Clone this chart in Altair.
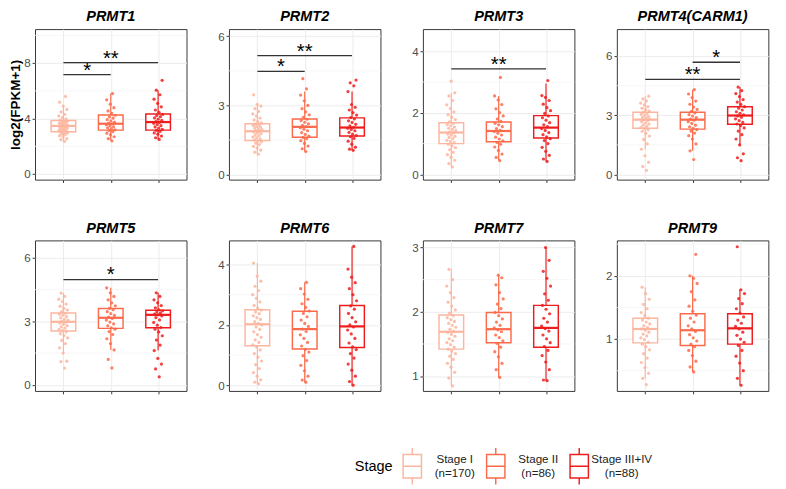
import altair as alt
import pandas as pd

FONT = "Liberation Sans"

STAGES = ["Stage I", "Stage II", "Stage III+IV"]
STAGE_N = [170, 86, 88]
COLORS = ["#FCB59E", "#FB6A4A", "#EE1C1C"]
LEGEND_TITLE = "Stage"

GENES = ["PRMT1", "PRMT2", "PRMT3", "PRMT4(CARM1)",
         "PRMT5", "PRMT6", "PRMT7", "PRMT9"]

# axis ranges and breaks per gene
Y_DOMAIN = {
    "PRMT1": [-0.4, 10.45], "PRMT2": [-0.22, 6.31], "PRMT3": [-0.17, 4.72],
    "PRMT4(CARM1)": [-0.26, 7.37], "PRMT5": [-0.29, 6.83], "PRMT6": [-0.19, 4.8],
    "PRMT7": [0.77, 3.11], "PRMT9": [0.18, 2.56],
}
Y_TICKS = {
    "PRMT1": [0, 4, 8], "PRMT2": [0, 3, 6], "PRMT3": [0, 2, 4],
    "PRMT4(CARM1)": [0, 3, 6], "PRMT5": [0, 3, 6], "PRMT6": [0, 2, 4],
    "PRMT7": [1, 2, 3], "PRMT9": [1, 2],
}
Y_MINOR = {
    "PRMT1": [2, 6, 10], "PRMT2": [1.5, 4.5], "PRMT3": [1, 3],
    "PRMT4(CARM1)": [1.5, 4.5], "PRMT5": [1.5, 4.5], "PRMT6": [1, 3],
    "PRMT7": [1.5, 2.5], "PRMT9": [0.5, 1.5, 2.5],
}

# box statistics per gene: one value per stage
Q1 = {
    "PRMT1": [3.05, 3.17, 3.17], "PRMT2": [1.48, 1.62, 1.67], "PRMT3": [1.0, 1.06, 1.18],
    "PRMT4(CARM1)": [2.34, 2.30, 2.55], "PRMT5": [2.55, 2.67, 2.70],
    "PRMT6": [1.31, 1.20, 1.25], "PRMT7": [1.42, 1.52, 1.45], "PRMT9": [0.94, 0.90, 0.92],
}
MED = {
    "PRMT1": [3.47, 3.63, 3.75], "PRMT2": [1.88, 2.07, 2.04], "PRMT3": [1.36, 1.41, 1.52],
    "PRMT4(CARM1)": [2.78, 2.78, 2.99], "PRMT5": [2.98, 3.17, 3.31],
    "PRMT6": [2.02, 1.86, 1.95], "PRMT7": [1.69, 1.73, 1.75], "PRMT9": [1.16, 1.14, 1.17],
}
Q3 = {
    "PRMT1": [3.86, 4.26, 4.33], "PRMT2": [2.20, 2.41, 2.46], "PRMT3": [1.68, 1.70, 1.91],
    "PRMT4(CARM1)": [3.16, 3.16, 3.43], "PRMT5": [3.40, 3.61, 3.53],
    "PRMT6": [2.50, 2.45, 2.64], "PRMT7": [1.95, 1.99, 2.10], "PRMT9": [1.33, 1.40, 1.40],
}
WLO = {
    "PRMT1": [2.36, 2.40, 2.50], "PRMT2": [0.88, 1.00, 1.05], "PRMT3": [0.24, 0.45, 0.42],
    "PRMT4(CARM1)": [1.28, 1.20, 1.50], "PRMT5": [1.50, 1.65, 1.62],
    "PRMT6": [0.05, 0.10, 0.0], "PRMT7": [0.85, 0.98, 0.93], "PRMT9": [0.38, 0.48, 0.27],
}
WHI = {
    "PRMT1": [5.00, 5.80, 6.05], "PRMT2": [3.05, 3.60, 3.60], "PRMT3": [2.65, 2.55, 2.95],
    "PRMT4(CARM1)": [3.97, 4.30, 4.43], "PRMT5": [4.34, 4.59, 4.35],
    "PRMT6": [4.05, 3.41, 4.60], "PRMT7": [2.66, 2.57, 3.00], "PRMT9": [1.82, 2.00, 1.78],
}

# individual sample values (read approximately from the jittered points)
PTS = {
    "PRMT1": [
        [2.36, 2.48, 2.55, 2.71, 2.77, 2.86, 2.9, 2.97, 3.01, 3.04, 3.09, 3.13, 3.15, 3.21, 3.24,
         3.29, 3.33, 3.36, 3.41, 3.44, 3.47, 3.5, 3.55, 3.57, 3.63, 3.67, 3.72, 3.75, 3.8, 3.84,
         3.9, 3.98, 4.07, 4.19, 4.31, 4.48, 4.66, 4.9, 5.18, 5.6],
        [2.4, 2.55, 2.69, 2.83, 2.95, 3.06, 3.14, 3.19, 3.27, 3.34, 3.41, 3.49, 3.55, 3.61, 3.66,
         3.74, 3.83, 3.92, 4.03, 4.12, 4.24, 4.37, 4.55, 4.79, 5.04, 5.35, 5.8],
        [2.5, 2.62, 2.74, 2.88, 2.97, 3.08, 3.15, 3.22, 3.31, 3.4, 3.49, 3.58, 3.66, 3.73, 3.79,
         3.87, 3.96, 4.05, 4.14, 4.22, 4.3, 4.45, 4.62, 4.85, 5.1, 5.4, 5.72, 6.05, 6.76],
    ],
    "PRMT2": [
        [0.88, 0.97, 1.06, 1.15, 1.22, 1.3, 1.36, 1.42, 1.46, 1.5, 1.55, 1.59, 1.63, 1.68, 1.72,
         1.77, 1.81, 1.85, 1.88, 1.91, 1.95, 1.98, 2.02, 2.06, 2.09, 2.13, 2.16, 2.19, 2.24, 2.3,
         2.37, 2.45, 2.54, 2.63, 2.74, 2.86, 2.97, 3.05, 3.46],
        [1.0, 1.12, 1.24, 1.35, 1.47, 1.56, 1.61, 1.67, 1.74, 1.82, 1.9, 1.97, 2.03, 2.08, 2.14,
         2.2, 2.27, 2.34, 2.4, 2.48, 2.59, 2.72, 2.86, 3.0, 3.2, 3.45, 3.72, 4.16],
        [1.05, 1.1, 1.19, 1.32, 1.45, 1.57, 1.64, 1.69, 1.75, 1.83, 1.9, 1.96, 2.01, 2.05, 2.11,
         2.18, 2.26, 2.33, 2.41, 2.47, 2.58, 2.69, 2.8, 2.92, 3.04, 3.6, 3.85, 3.98, 4.1],
    ],
    "PRMT3": [
        [0.24, 0.35, 0.46, 0.56, 0.64, 0.72, 0.8, 0.87, 0.93, 0.98, 1.03, 1.07, 1.11, 1.16, 1.2,
         1.24, 1.28, 1.31, 1.35, 1.38, 1.42, 1.46, 1.5, 1.54, 1.58, 1.62, 1.66, 1.71, 1.78, 1.86,
         1.94, 2.03, 2.14, 2.26, 2.4, 2.55, 2.65, 3.03],
        [0.45, 0.55, 0.66, 0.78, 0.89, 0.98, 1.04, 1.09, 1.15, 1.21, 1.28, 1.34, 1.39, 1.43, 1.49,
         1.55, 1.61, 1.66, 1.72, 1.8, 1.9, 2.01, 2.13, 2.27, 2.42, 2.55, 3.15],
        [0.42, 0.5, 0.62, 0.75, 0.88, 1.0, 1.1, 1.16, 1.22, 1.29, 1.36, 1.43, 1.49, 1.55, 1.61,
         1.68, 1.76, 1.84, 1.9, 1.98, 2.07, 2.17, 2.28, 2.4, 2.5, 2.56, 3.05],
    ],
    "PRMT4(CARM1)": [
        [0.21, 0.4, 0.62, 0.95, 1.28, 1.55, 1.78, 1.95, 2.08, 2.19, 2.27, 2.33, 2.38, 2.44, 2.5,
         2.56, 2.61, 2.67, 2.72, 2.77, 2.81, 2.86, 2.9, 2.95, 3.0, 3.05, 3.1, 3.15, 3.21, 3.28,
         3.36, 3.44, 3.53, 3.62, 3.72, 3.83, 3.97],
        [0.76, 1.2, 1.55, 1.8, 1.97, 2.1, 2.2, 2.27, 2.34, 2.42, 2.5, 2.59, 2.68, 2.75, 2.81,
         2.88, 2.96, 3.04, 3.12, 3.2, 3.3, 3.42, 3.56, 3.72, 3.9, 4.08, 4.3],
        [0.7, 0.85, 1.05, 1.5, 1.8, 2.02, 2.2, 2.36, 2.48, 2.56, 2.64, 2.73, 2.82, 2.9, 2.97,
         3.03, 3.1, 3.18, 3.27, 3.36, 3.44, 3.55, 3.67, 3.8, 3.95, 4.1, 4.25, 4.43],
    ],
    "PRMT5": [
        [0.79, 1.1, 1.12, 1.5, 1.75, 1.95, 2.1, 2.22, 2.33, 2.42, 2.5, 2.56, 2.62, 2.68, 2.74,
         2.8, 2.86, 2.92, 2.97, 3.01, 3.06, 3.11, 3.17, 3.23, 3.29, 3.34, 3.39, 3.46, 3.54, 3.62,
         3.72, 3.82, 3.94, 4.05, 4.18, 4.34],
        [0.8, 1.2, 1.65, 1.95, 2.18, 2.38, 2.52, 2.63, 2.7, 2.79, 2.88, 2.97, 3.06, 3.14, 3.2,
         3.28, 3.37, 3.46, 3.55, 3.62, 3.74, 3.88, 4.02, 4.18, 4.35, 4.59],
        [0.38, 0.75, 0.98, 1.25, 1.62, 1.88, 2.12, 2.32, 2.5, 2.63, 2.71, 2.82, 2.95, 3.07, 3.18,
         3.26, 3.31, 3.35, 3.4, 3.45, 3.5, 3.55, 3.64, 3.75, 3.88, 4.02, 4.18, 4.35],
    ],
    "PRMT6": [
        [0.05, 0.1, 0.18, 0.3, 0.42, 0.55, 0.68, 0.8, 0.93, 1.05, 1.17, 1.27, 1.34, 1.42, 1.5,
         1.59, 1.68, 1.77, 1.85, 1.93, 2.0, 2.05, 2.11, 2.18, 2.24, 2.3, 2.37, 2.43, 2.49, 2.56,
         2.65, 2.76, 2.88, 3.0, 3.14, 3.28, 3.45, 3.62, 4.05],
        [0.1, 0.17, 0.3, 0.48, 0.66, 0.82, 0.98, 1.1, 1.19, 1.3, 1.42, 1.55, 1.67, 1.78, 1.86,
         1.95, 2.05, 2.16, 2.27, 2.38, 2.46, 2.58, 2.7, 2.85, 3.02, 3.2, 3.41],
        [0.0, 0.12, 0.3, 0.5, 0.7, 0.9, 1.05, 1.18, 1.27, 1.4, 1.55, 1.7, 1.83, 1.93, 2.0,
         2.1, 2.24, 2.38, 2.52, 2.63, 2.8, 3.0, 3.2, 3.4, 3.58, 3.85, 4.6],
    ],
    "PRMT7": [
        [0.85, 0.97, 1.06, 1.14, 1.2, 1.26, 1.31, 1.35, 1.39, 1.42, 1.45, 1.49, 1.52, 1.55, 1.58,
         1.62, 1.65, 1.68, 1.7, 1.73, 1.76, 1.79, 1.82, 1.85, 1.88, 1.91, 1.94, 1.98, 2.03, 2.09,
         2.15, 2.22, 2.3, 2.4, 2.5, 2.66],
        [0.98, 1.1, 1.2, 1.3, 1.38, 1.45, 1.51, 1.55, 1.6, 1.64, 1.69, 1.72, 1.75, 1.79, 1.84,
         1.89, 1.94, 1.99, 2.05, 2.12, 2.2, 2.3, 2.42, 2.53, 2.57],
        [0.93, 0.94, 1.1, 1.22, 1.32, 1.4, 1.46, 1.52, 1.58, 1.64, 1.7, 1.74, 1.78, 1.84, 1.9,
         1.97, 2.04, 2.1, 2.18, 2.28, 2.4, 2.52, 2.63, 2.8, 3.0],
    ],
    "PRMT9": [
        [0.28, 0.38, 0.46, 0.55, 0.63, 0.7, 0.77, 0.83, 0.88, 0.92, 0.95, 0.99, 1.02, 1.05, 1.08,
         1.11, 1.14, 1.16, 1.18, 1.21, 1.24, 1.27, 1.3, 1.33, 1.37, 1.42, 1.48, 1.55, 1.63, 1.72,
         1.82],
        [0.48, 0.56, 0.65, 0.74, 0.82, 0.88, 0.92, 0.97, 1.02, 1.07, 1.12, 1.16, 1.21, 1.27, 1.33,
         1.38, 1.44, 1.52, 1.62, 1.75, 1.88, 1.96, 2.0, 2.34],
        [0.27, 0.38, 0.5, 0.62, 0.73, 0.82, 0.9, 0.95, 1.0, 1.06, 1.11, 1.16, 1.2, 1.25, 1.3,
         1.35, 1.41, 1.48, 1.56, 1.64, 1.72, 1.78, 2.46],
    ],
}

# significance brackets: (from stage #, to stage #, height, label)
SIG = {
    "PRMT1": [(1, 2, 7.17, "*"), (1, 3, 8.03, "**")],
    "PRMT2": [(1, 2, 4.48, "*"), (1, 3, 5.16, "**")],
    "PRMT3": [(1, 3, 3.43, "**")],
    "PRMT4(CARM1)": [(1, 3, 4.82, "**"), (2, 3, 5.69, "*")],
    "PRMT5": [(1, 3, 4.98, "*")],
    "PRMT6": [], "PRMT7": [], "PRMT9": [],
}

W, H = 157, 156
BOX_HALF = 0.26
BOX_PATH = "M-0.5,-0.64H0.5V0.64H-0.5Z M-0.5,0H0.5 M0,-0.64V-1 M0,0.64V1"

color_scale = alt.Scale(domain=STAGES, range=COLORS)


def panel(gene, ytitle="", ytitle_visible=True):
    box_df = pd.DataFrame({
        "stage": STAGES, "idx": [1, 2, 3], "q1": Q1[gene], "med": MED[gene],
        "q3": Q3[gene], "lo": WLO[gene], "hi": WHI[gene],
    })
    rows = []
    for k, s in enumerate(STAGES):
        for i, v in enumerate(PTS[gene][k]):
            rows.append({"stage": s, "idx": k + 1, "i": i, "value": v})
    pt_df = pd.DataFrame(rows)
    minor_df = pd.DataFrame({"v": Y_MINOR[gene]})

    xs = alt.Scale(domain=[0.4, 3.6], nice=False, zero=False)
    ys = alt.Scale(domain=Y_DOMAIN[gene], nice=False, zero=False)

    yaxis_kw = dict(values=Y_TICKS[gene], grid=True, format="d", title=ytitle,
                    titleFontSize=14, titleFontWeight="bold", titleColor="#000000",
                    titlePadding=1, titleFont=FONT)
    if not ytitle_visible:
        yaxis_kw.update(titleOpacity=0)
    yaxis = alt.Axis(**yaxis_kw)
    xaxis = alt.Axis(values=[1, 2, 3], labels=False, title="", grid=True, ticks=True)

    def X(f):
        return alt.X(f, scale=xs, axis=xaxis)

    def Y(f):
        return alt.Y(f, scale=ys, axis=yaxis)

    col = alt.Color("stage:N", scale=color_scale, legend=None)

    box_base = alt.Chart(box_df).transform_calculate(
        x1=f"datum.idx - {BOX_HALF}", x2=f"datum.idx + {BOX_HALF}"
    )
    minor = alt.Chart(minor_df).mark_rule(color="#F4F4F4", strokeWidth=0.8).encode(
        y=Y("v:Q")
    )
    wl = box_base.mark_rule(strokeWidth=1.2).encode(
        x=X("idx:Q"), y=Y("lo:Q"), y2="q1:Q", color=col
    )
    wh = box_base.mark_rule(strokeWidth=1.2).encode(
        x=X("idx:Q"), y=Y("q3:Q"), y2="hi:Q", color=col
    )
    boxfill = box_base.mark_rect(fill="white").encode(
        x=X("x1:Q"), x2="x2:Q", y=Y("q1:Q"), y2="q3:Q"
    )
    boxline = box_base.mark_rect(filled=False, strokeWidth=1.5).encode(
        x=X("x1:Q"), x2="x2:Q", y=Y("q1:Q"), y2="q3:Q", color=col
    )
    med = box_base.mark_rule(strokeWidth=2.3).encode(
        x=X("x1:Q"), x2="x2:Q", y=Y("med:Q"), color=col
    )
    pts = alt.Chart(pt_df).transform_calculate(
        jx="datum.idx + ((((datum.i + 1) * 0.6180339887) % 1) - 0.5) * 0.2"
    ).mark_circle(size=11, opacity=0.85).encode(
        x=X("jx:Q"), y=Y("value:Q"), color=col
    )
    layers = [minor, wl, wh, boxfill, boxline, med, pts]
    if SIG[gene]:
        sig_df = pd.DataFrame(SIG[gene], columns=["a", "b", "y", "lab"])
        sbase = alt.Chart(sig_df)
        srule = sbase.mark_rule(color="#333333", strokeWidth=1.3).encode(
            x=X("a:Q"), x2="b:Q", y=Y("y:Q")
        )
        stext = sbase.transform_calculate(mid="(datum.a + datum.b) / 2").mark_text(
            fontSize=21, font=FONT, color="#000000", baseline="alphabetic", dy=2
        ).encode(x=X("mid:Q"), y=Y("y:Q"), text="lab:N")
        layers += [srule, stext]
    return alt.layer(*layers).properties(
        width=W, height=H,
        title=alt.TitleParams(gene, fontSize=15, fontWeight="bold", fontStyle="italic",
                              font=FONT, anchor="middle", offset=5, color="#000000"),
    )


# custom legend with box-shaped keys
leg_df = pd.DataFrame({
    "stage": STAGES,
    "nlab": [f"(n={n})" for n in STAGE_N],
})
LEG_H = 36
lx = alt.X("stage:N",
           scale=alt.Scale(type="point", domain=STAGES, range=[391, 564], padding=0),
           axis=None)
leg_base = alt.Chart(leg_df)
leg_glyph = leg_base.mark_point(
    shape=BOX_PATH, size=1444, filled=False, strokeWidth=1.5, opacity=1
).encode(x=lx, y=alt.value(LEG_H / 2),
         color=alt.Color("stage:N", scale=color_scale, legend=None))
leg_l1 = leg_base.mark_text(
    align="center", baseline="middle", dx=44, dy=-7, fontSize=12, font=FONT, color="#222222"
).encode(x=lx, y=alt.value(LEG_H / 2), text="stage:N")
leg_l2 = leg_base.mark_text(
    align="center", baseline="middle", dx=44, dy=7, fontSize=12, font=FONT, color="#222222"
).encode(x=lx, y=alt.value(LEG_H / 2), text="nlab:N")
leg_title = leg_base.transform_filter(alt.datum.stage == STAGES[0]).mark_text(
    align="center", baseline="middle", dx=-40, fontSize=15, font=FONT, color="#000000"
).encode(x=lx, y=alt.value(LEG_H / 2), text=alt.value(LEGEND_TITLE))
legend_chart = alt.layer(leg_glyph, leg_l1, leg_l2, leg_title).properties(
    width=770, height=LEG_H, view=alt.ViewBackground(strokeOpacity=0)
)

row1 = alt.hconcat(
    panel(GENES[0], ytitle="log2(FPKM+1)"), panel(GENES[1]), panel(GENES[2]), panel(GENES[3]),
    spacing=30,
)
row2 = alt.hconcat(
    panel(GENES[4], ytitle="log2(FPKM+1)", ytitle_visible=False), panel(GENES[5]),
    panel(GENES[6]), panel(GENES[7]),
    spacing=30,
)
grid = alt.vconcat(row1, row2, spacing=38)

chart = alt.vconcat(grid, legend_chart, spacing=52).resolve_scale(
    color="shared"
).properties(
    padding={"left": 0, "top": -8, "right": 0, "bottom": 0}, background="white"
).configure_view(
    stroke="#333333", strokeWidth=1
).configure_axis(
    domain=False, tickColor="#333333", tickSize=3, labelPadding=2,
    labelColor="#4D4D4D", labelFontSize=12, labelFont=FONT,
    gridColor="#EBEBEB", gridWidth=1,
)

chart.save("out.html", embed_options={"renderer": "svg", "actions": False})
